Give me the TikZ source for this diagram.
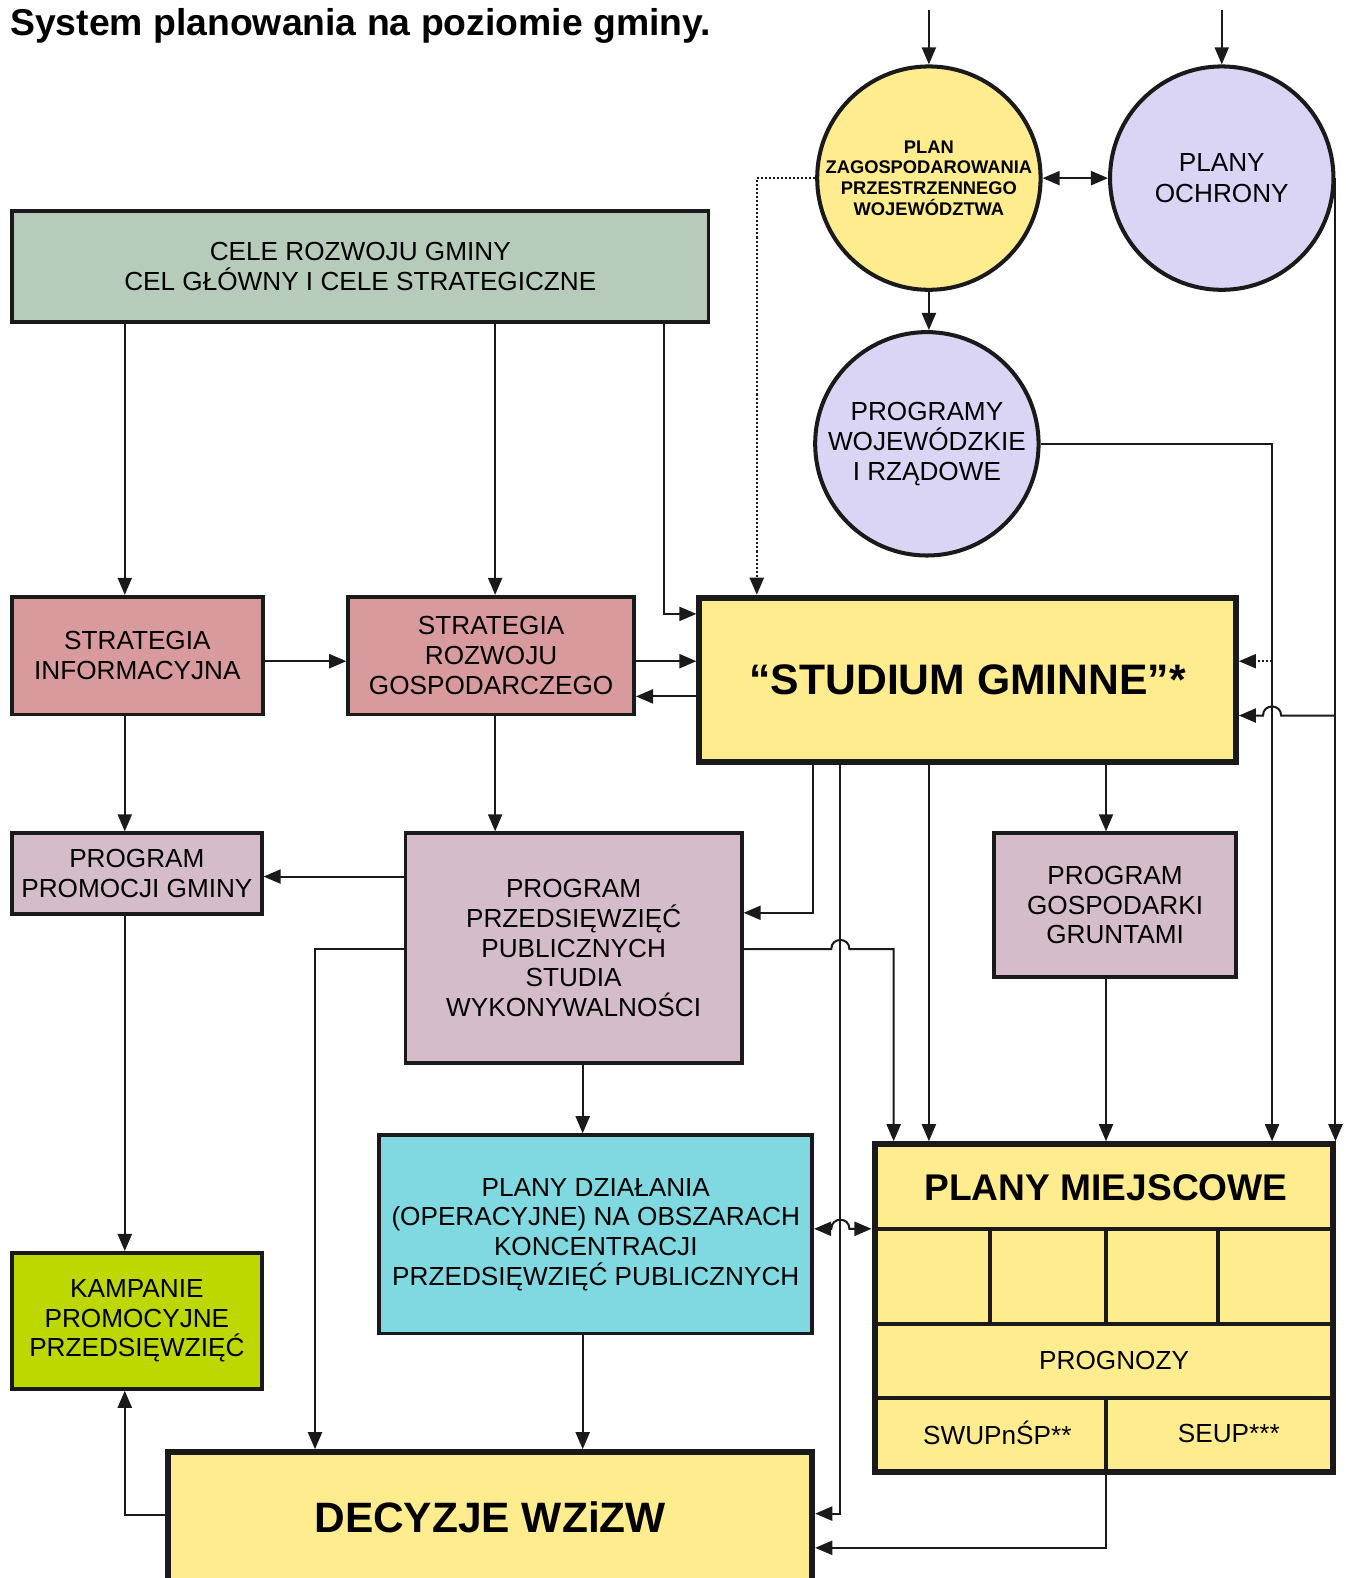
\documentclass[tikz,border=0pt]{standalone}
\usepackage{fontspec}
\setmainfont{Liberation Sans}
\usetikzlibrary{arrows.meta}
\definecolor{ink}{HTML}{1A1A1A}
\definecolor{celeG}{HTML}{B7CBBA}
\definecolor{pinkS}{HTML}{D99A9E}
\definecolor{mauveP}{HTML}{D5BCCA}
\definecolor{yellowY}{HTML}{FFEC8E}
\definecolor{lavL}{HTML}{DAD5F5}
\definecolor{cyanD}{HTML}{80D8E0}
\definecolor{limeK}{HTML}{BDD700}
\begin{document}
\begin{tikzpicture}[x=1pt,y=-1pt,
  box/.style={draw=ink, line width=3.8pt, align=center, inner sep=0pt, font=\fontsize{26}{29.5}\selectfont},
  thickbox/.style={box, line width=6pt},
  circ/.style={circle, draw=ink, line width=4pt, minimum size=222pt, align=center, inner sep=0pt, font=\fontsize{26}{30}\selectfont},
  conn/.style={draw=ink, line width=2pt},
  arr/.style={conn, -{Triangle[length=17pt,width=14pt]}},
  darr/.style={conn, {Triangle[length=17pt,width=14pt]}-{Triangle[length=17pt,width=14pt]}},
  dotarr/.style={arr, dash pattern=on 2pt off 2pt},
  sect/.style={draw=ink, line width=4pt},
  lbl/.style={inner sep=0pt, font=\fontsize{26}{29.5}\selectfont},
]
\useasboundingbox (0,0) rectangle (1337,1568);

% title
\node[anchor=base west, inner sep=0pt, font=\fontsize{37.1}{40}\selectfont\bfseries] (title) at (10,35) {System planowania na poziomie gminy.};

% boxes
\node[box, fill=celeG, minimum width=692pt, minimum height=110pt] (cele) at (358,265) {CELE ROZWOJU GMINY\\CEL GŁÓWNY I CELE STRATEGICZNE};
\node[box, fill=pinkS, minimum width=249pt, minimum height=117pt] (sinf) at (136.5,651.5) {STRATEGIA\\INFORMACYJNA};
\node[box, fill=pinkS, minimum width=284pt, minimum height=117pt] (sroz) at (488,651.5) {STRATEGIA\\ROZWOJU\\GOSPODARCZEGO};
\node[thickbox, fill=yellowY, minimum width=533pt, minimum height=163pt, font=\fontsize{42.4}{46}\selectfont\bfseries] (studium) at (961.5,675.5) {“STUDIUM GMINNE”*};
\node[box, fill=mauveP, minimum width=248pt, minimum height=80pt] (ppg) at (136,868) {PROGRAM\\PROMOCJI GMINY};
\node[box, fill=mauveP, minimum width=334pt, minimum height=228pt] (pp) at (570,942) {PROGRAM\\PRZEDSIĘWZIĘĆ\\PUBLICZNYCH\\STUDIA\\WYKONYWALNOŚCI};
\node[box, fill=mauveP, minimum width=240pt, minimum height=143pt] (pgg) at (1108,899.5) {PROGRAM\\GOSPODARKI\\GRUNTAMI};
\node[box, fill=cyanD, minimum width=430pt, minimum height=197pt] (pd) at (592,1226.5) {PLANY DZIAŁANIA\\(OPERACYJNE) NA OBSZARACH\\KONCENTRACJI\\PRZEDSIĘWZIĘĆ PUBLICZNYCH};
\node[box, fill=limeK, minimum width=248pt, minimum height=135pt] (kamp) at (136,1312.5) {KAMPANIE\\PROMOCYJNE\\PRZEDSIĘWZIĘĆ};
\node[thickbox, fill=yellowY, minimum width=640pt, minimum height=129pt, font=\fontsize{42.2}{46}\selectfont\bfseries] (dec) at (487,1507.5) {DECYZJE WZiZW};

% circles
\node[circ, fill=yellowY, font=\fontsize{18.2}{20.7}\selectfont\bfseries] (pz) at (923,177) {PLAN\\ZAGOSPODAROWANIA\\PRZESTRZENNEGO\\WOJEWÓDZTWA};
\node[circ, fill=lavL] (po) at (1214,177) {PLANY\\OCHRONY};
\node[circ, fill=lavL] (pw) at (921,441) {PROGRAMY\\WOJEWÓDZKIE\\I RZĄDOWE};

% plany miejscowe
\node[thickbox, fill=yellowY, minimum width=456pt, minimum height=326pt] (pm) at (1097,1300) {};
\coordinate (h1) at (0,1221);
\coordinate (h2) at (0,1316);
\coordinate (h3) at (0,1389);
\coordinate (v1) at (984,0);
\coordinate (v2) at (1099,0);
\coordinate (v3) at (1210,0);
\draw[sect] (pm.west |- h1) -- (pm.east |- h1);
\draw[sect] (pm.west |- h2) -- (pm.east |- h2);
\draw[sect] (pm.west |- h3) -- (pm.east |- h3);
\draw[sect] (v1 |- h1) -- (v1 |- h2);
\draw[sect] (v2 |- h1) -- (v2 |- h2);
\draw[sect] (v3 |- h1) -- (v3 |- h2);
\draw[sect] (v2 |- h3) -- (v2 |- pm.south);
\node[inner sep=0pt, font=\fontsize{36.9}{40}\selectfont\bfseries] (pmt) at (1099,1180) {PLANY MIEJSCOWE};
\node[lbl] (prog) at (1107,1352) {PROGNOZY};
\node[lbl] (swup) at (991,1424) {SWUPnŚP**};
\node[lbl] (seup) at (1221,1424) {SEUP***};

% helper coordinates
\coordinate (t1) at (923,10);
\coordinate (t2) at (1214,10);
\coordinate (x124) at (124,0);
\coordinate (x313) at (313,0);
\coordinate (x492) at (492,0);
\coordinate (x579) at (579,0);
\coordinate (x752) at (752,0);
\coordinate (x808) at (808,0);
\coordinate (x835) at (835,0);
\coordinate (x888) at (888,0);
\coordinate (x923) at (923,0);
\coordinate (x1264) at (1264,0);
\coordinate (y657) at (0,657);
\coordinate (y692) at (0,692);
\coordinate (y871) at (0,871);
\coordinate (y943) at (0,943);
\coordinate (y1505) at (0,1505);
\coordinate (c610) at (660,610);
\coordinate (s907) at (808,907);
\coordinate (s1504) at (835,1504);
\coordinate (d1) at (1264,657);
\coordinate (b1) at (1327,711);
\coordinate (k1505) at (124,1505);
\coordinate (m1538) at (1099,1538);
\coordinate (l943) at (313,943);

% connectors: top
\draw[arr] (t1) -- (pz.north);
\draw[arr] (t2) -- (po.north);
\draw[darr] (pz.east) -- (po.west);
\draw[arr] (pz.south) -- (pz.south |- pw.north);
\draw[dotarr] (pz.west) -- (pz.west -| x752) -- (studium.north -| x752);
\draw[arr] (pw.east) -- (pw.east -| x1264) -- (pm.north -| x1264);
\draw[dotarr] (d1) -- (d1 -| studium.east);
\draw[arr] (po.east) -- (pm.north -| po.east);
\draw[arr] (b1) -- (1273,711) .. controls (1273,699) and (1255,699) .. (1255,711) -- (studium.east |- b1);

% connectors: cele
\draw[arr] (cele.south -| x124) -- (sinf.north -| x124);
\draw[arr] (cele.south -| x492) -- (sroz.north -| x492);
\draw[arr] (cele.south -| c610) -- (c610) -- (c610 -| studium.west);

% strategies
\draw[arr] (sinf.east |- y657) -- (sroz.west |- y657);
\draw[arr] (sroz.east |- y657) -- (studium.west |- y657);
\draw[arr] (studium.west |- y692) -- (sroz.east |- y692);
\draw[arr] (sinf.south -| x124) -- (ppg.north -| x124);
\draw[arr] (sroz.south -| x492) -- (pp.north -| x492);

% programs
\draw[arr] (pp.west |- y871) -- (ppg.east |- y871);
\draw[arr] (studium.south -| x808) -- (s907) -- (s907 -| pp.east);
\draw[arr] (studium.south -| x835) -- (s1504) -- (s1504 -| dec.east);
\draw[arr] (studium.south -| x923) -- (pm.north -| x923);
\draw[arr] (studium.south -| v2) -- (pgg.north -| v2);
\draw[arr] (pp.east |- y943) -- (826,943) .. controls (826,931) and (844,931) .. (844,943) -- (888,943) -- (pm.north -| x888);
\draw[arr] (pp.west |- y943) -- (l943) -- (dec.north -| x313);
\draw[arr] (pp.south -| x579) -- (pd.north -| x579);
\draw[arr] (ppg.south -| x124) -- (kamp.north -| x124);
\draw[arr] (pgg.south -| v2) -- (pm.north -| v2);
\draw[arr] (pd.south -| x579) -- (dec.north -| x579);
\draw[darr] (pd.east |- h1) -- (826,1221) .. controls (826,1209) and (844,1209) .. (844,1221) -- (pm.west |- h1);
\draw[arr] (dec.west |- y1505) -- (k1505) -- (kamp.south -| x124);
\draw[arr] (pm.south -| v2) -- (m1538) -- (m1538 -| dec.east);
\end{tikzpicture}
\end{document}
